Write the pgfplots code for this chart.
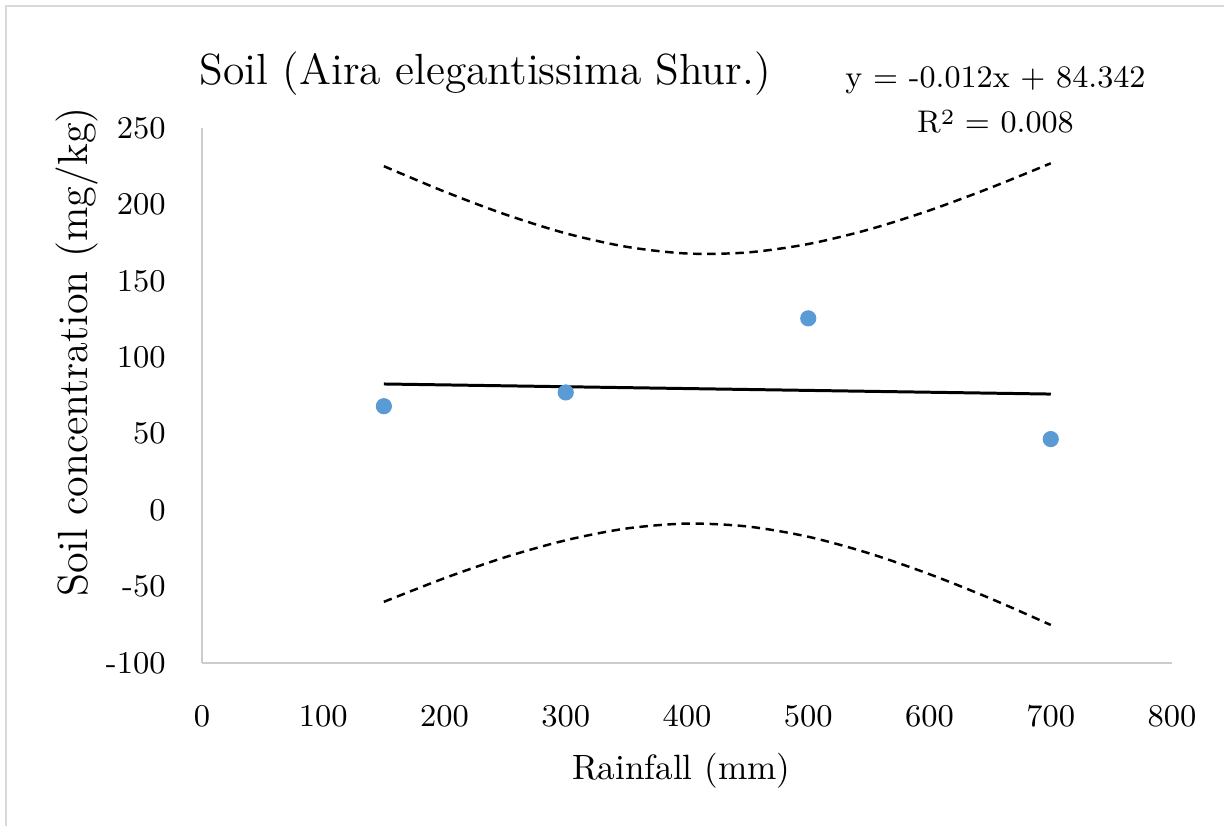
\documentclass[border=0pt]{standalone}
\usepackage{pgfplots}
\pgfplotsset{compat=1.18}
\definecolor{ptblue}{RGB}{91,155,213}
\definecolor{axgray}{RGB}{204,204,204}
\definecolor{framegray}{RGB}{217,217,217}
\begin{document}
\begin{tikzpicture}
\useasboundingbox (0,0) rectangle (12.24cm,8.25cm);
\draw[framegray, line width=0.2mm] (0.06cm,-1cm) -- (0.06cm,8.19cm) -- (13.5cm,8.19cm);
\begin{axis}[
  at={(2.02cm,1.62cm)}, anchor=south west,
  scale only axis, width=9.7cm, height=5.35cm,
  xmin=0, xmax=800, ymin=-100, ymax=250,
  axis x line*=bottom, axis y line*=left,
  axis line style={axgray, line width=0.2mm},
  xtick={0,100,200,300,400,500,600,700,800},
  xticklabels={0,100,200,300,400,500,600,700,800},
  ytick={-100,-50,0,50,100,150,200,250},
  yticklabels={-100,-50,0,50,100,150,200,250},
  major tick length=0pt,
  tick label style={font=\fontsize{9}{10}\selectfont},
  yticklabel style={xshift=-2.4mm},
  xticklabel style={yshift=-3mm},
  title={Soil (Aira elegantissima Shur.)},
  title style={at={(axis description cs:-0.015,1.063)}, anchor=west, font=\fontsize{12.4}{14}\selectfont},
  xlabel={Rainfall (mm)},
  xlabel style={at={(axis description cs:0.494,-0.202)}, anchor=center, font=\fontsize{10}{12}\selectfont},
  ylabel={Soil concentration (mg/kg)},
  ylabel style={at={(axis description cs:-0.129,0.582)}, anchor=center, font=\fontsize{12}{14}\selectfont},
  clip=false,
]
% upper band
\addplot[black, line width=0.7pt, dash pattern=on 2.4pt off 1.6pt, smooth] coordinates {
(150,225.0) (200,208.4) (250,193.5) (300,181.1) (350,172.3) (400,167.9)
(450,168.6) (500,174.1) (550,183.6) (600,196.1) (650,210.8) (700,226.9)};
% lower band
\addplot[black, line width=0.7pt, dash pattern=on 2.4pt off 1.6pt, smooth] coordinates {
(150,-60.0) (200,-44.5) (250,-30.8) (300,-19.7) (350,-12.0) (400,-8.8)
(450,-10.7) (500,-17.4) (550,-28.2) (600,-41.9) (650,-57.7) (700,-75.1)};
% trend line
\addplot[black, line width=0.85pt] coordinates {(150,82.54) (700,75.94)};
% data
\addplot[only marks, mark=*, mark size=2.1pt, draw=ptblue, fill=ptblue] coordinates {
(150,68) (300,77) (500,125.5) (700,46.5)};
\node[align=center, font=\fontsize{8.9}{12.8}\selectfont] at (axis description cs:0.818,1.052)
  {y = -0.012x + 84.342\\R{\fontsize{6.2}{7}\selectfont\raisebox{0.9ex}{2}} = 0.008};
\end{axis}
\end{tikzpicture}
\end{document}
